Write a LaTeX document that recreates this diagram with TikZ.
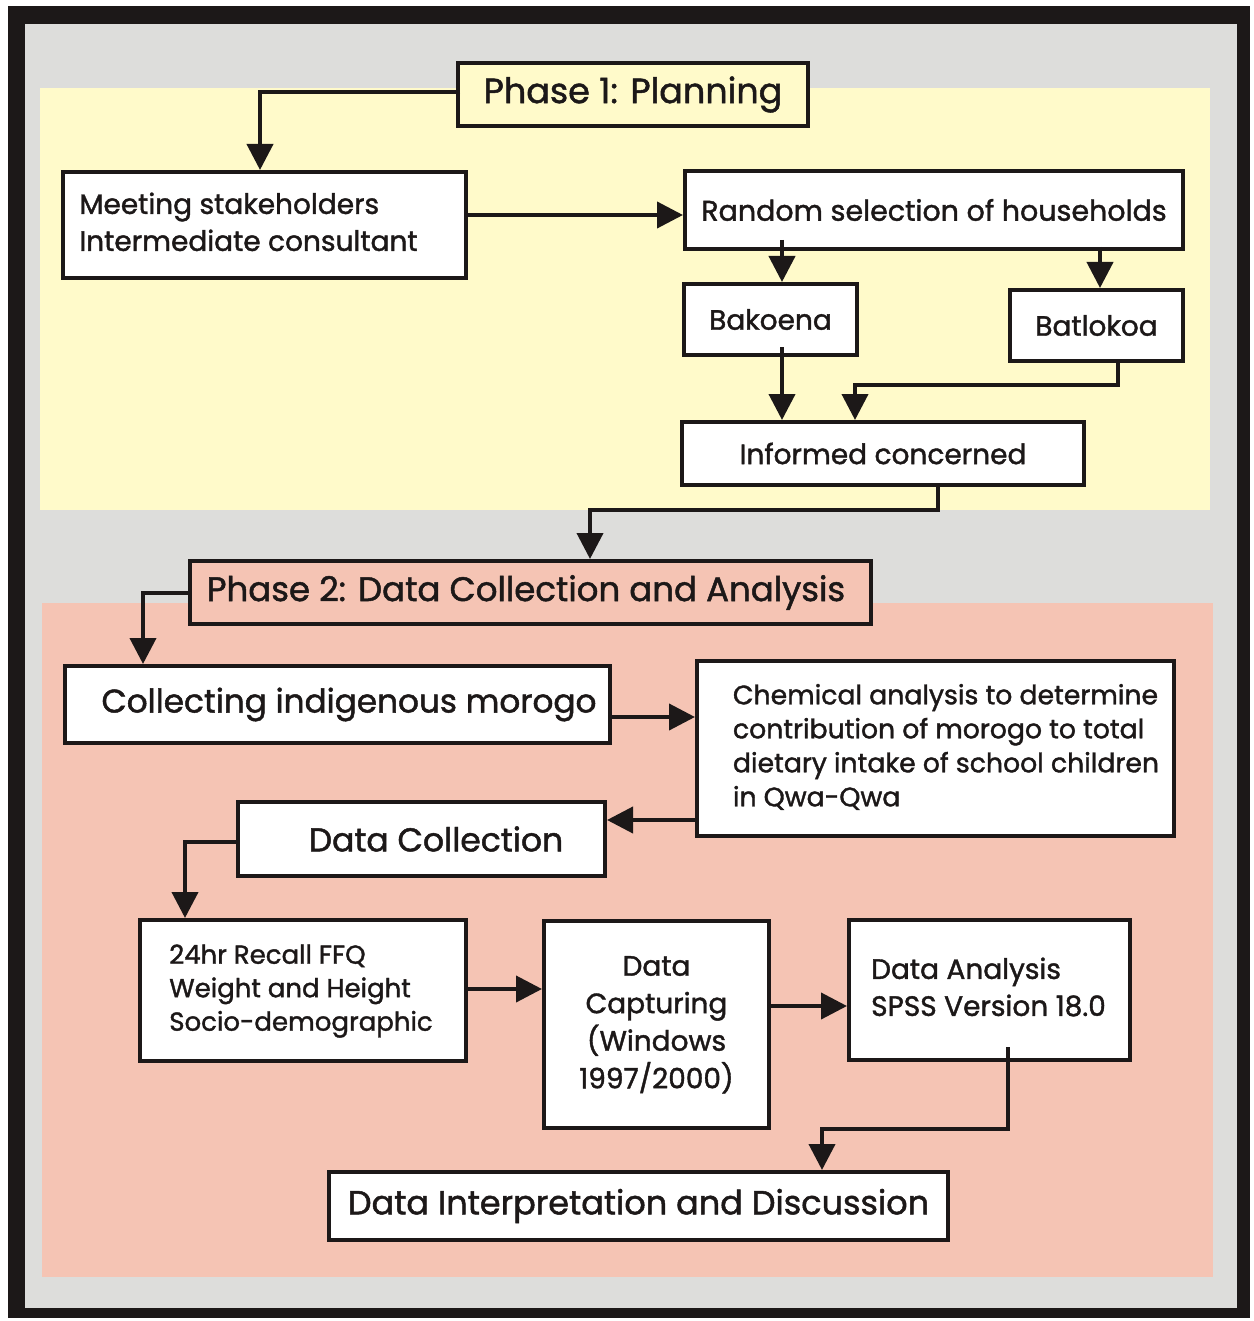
\documentclass[tikz,border=0pt]{standalone}
\usepackage{fontspec}
\setmainfont{Poppins}[FakeBold=1.4]
\usetikzlibrary{arrows.meta,calc}
\definecolor{framecol}{RGB}{28,24,24}
\definecolor{greycol}{RGB}{221,221,219}
\definecolor{yelcol}{RGB}{255,250,202}
\definecolor{pinkcol}{RGB}{245,196,180}
\newcommand{\fs}[2]{\fontsize{#1}{#2}\selectfont}
\begin{document}
\begin{tikzpicture}[x=1pt,y=-1pt,
  box/.style={draw=framecol,line width=4pt,fill=white,inner sep=0pt,text=framecol},
  arr/.style={draw=framecol,line width=4pt,-{Triangle[width=26pt,length=26pt]}}]
\useasboundingbox (0,0) rectangle (1253,1321);
% frame and panels
\fill[white] (0,0) rectangle (1253,1321);
\fill[framecol] (8,6) rectangle (1250,1318);
\fill[greycol] (25,24) rectangle (1237,1308);
\fill[yelcol] (40,88) rectangle (1210,510);
\fill[pinkcol] (42,603) rectangle (1213,1277);

% phase 1
\node[box,fill=yelcol,minimum width=350,minimum height=63,font=\fs{35}{40}] (p1) at (633,94.5) {Phase 1: Planning};
\node[box,minimum width=403,minimum height=106] (meet) at (264.5,225)
  {\hspace*{-32pt}\fs{28}{37}\begin{tabular}{@{}l@{}}Meeting stakeholders\\Intermediate consultant\end{tabular}};
\node[box,minimum width=498,minimum height=78,font=\fs{28.5}{34}] (rand) at (934,210) {Random selection of households};
\node[box,minimum width=173,minimum height=71,font=\fs{28}{34}] (bako) at (770.5,319.5) {Bakoena};
\node[box,minimum width=173,minimum height=71,font=\fs{28}{34}] (bat) at (1096.5,325.5) {Batlokoa};
\node[box,minimum width=402,minimum height=63,font=\fs{28}{34}] (inf) at (883,453.5) {Informed concerned};

% phase 2
\node[box,fill=pinkcol,minimum width=681,minimum height=63,font=\fs{34}{40}] (p2) at (530.5,592.5) {Phase 2: Data Collection and Analysis\hspace*{9pt}};
\node[box,minimum width=545,minimum height=77,font=\fs{32.7}{38}] (coll) at (337.5,704.5) {\hspace*{23pt}Collecting indigenous morogo};
\node[box,minimum width=477,minimum height=175] (chem) at (935.5,748.5)
  {\hspace*{21pt}\fs{26.7}{34}\begin{tabular}{@{}l@{}}Chemical analysis to determine\\contribution of morogo to total\\dietary intake of school children\\in Qwa-Qwa\end{tabular}};
\node[box,minimum width=367,minimum height=74,font=\fs{33}{38}] (dcol) at (421.5,839) {\hspace*{29pt}Data Collection};
\node[box,minimum width=326,minimum height=141] (rec) at (303,990.5)
  {\hspace*{-4pt}\fs{26}{33.5}\begin{tabular}{@{}l@{}}24hr Recall FFQ\\Weight and Height\\Socio-demographic\end{tabular}};
\node[box,minimum width=225,minimum height=207] (cap) at (656.5,1024.5)
  {\fs{28}{37.5}\begin{tabular}{@{}c@{}}Data\\Capturing\\(Windows\\1997/2000)\end{tabular}};
\node[box,minimum width=281,minimum height=140] (ana) at (989.5,990)
  {\hspace*{-2pt}\raisebox{-3pt}{\fs{28}{37}\begin{tabular}{@{}l@{}}Data Analysis\\SPSS Version 18.0\end{tabular}}};
\node[box,minimum width=619,minimum height=68,font=\fs{33.5}{38}] (intp) at (638.5,1206) {Data Interpretation and Discussion};

% connectors
\draw[arr] ($(p1.west)+(4,-2)$) -| ($(meet.north)+(-4.5,0)$);
\draw[arr] ($(meet.east)+(0,-10)$) -- ($(rand.west)+(0,5)$);
\draw[arr] ($(rand.south -| bako.north)+(11.5,-11)$) -- ($(bako.north)+(11.5,0)$);
\draw[arr] ($(rand.south -| bat.north)+(3.5,-4)$) -- ($(bat.north)+(3.5,0)$);
\draw[arr] ($(bako.south)+(11.5,-10)$) -- ($(inf.north -| bako.south)+(11.5,0)$);
\draw[arr] ($(bat.south)+(21.5,0)$) -- ++(0,22) -| ($(inf.north)+(-28,0)$);
\draw[arr] ($(inf.south)+(55,0)$) -- ++(0,23) -| ($(p2.north)+(59.5,0)$);
\draw[arr] (p2.west) -| ($(coll.north)+(-194.5,0)$);
\draw[arr] ($(coll.east)+(0,12.5)$) -- ($(coll.east -| chem.west)+(0,12.5)$);
\draw[arr] ($(chem.west)+(0,71.5)$) -- ($(dcol.east)+(0,-19)$);
\draw[arr] ($(dcol.west)+(0,3)$) -| ($(rec.north)+(-118,0)$);
\draw[arr] ($(rec.east)+(0,-1.5)$) -- ($(rec.east -| cap.west)+(0,-1.5)$);
\draw[arr] ($(cap.east)+(0,-18.5)$) -- ($(ana.west)+(0,16)$);
\draw[arr] ($(ana.south)+(18.5,-15)$) -- ($(ana.south)+(18.5,67)$) -| ($(intp.north)+(183.5,0)$);
\end{tikzpicture}
\end{document}
